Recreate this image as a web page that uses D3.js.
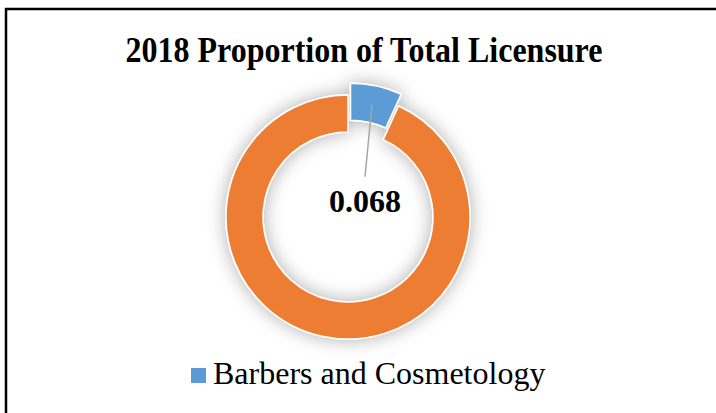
<!DOCTYPE html>
<html><head><meta charset="utf-8">
<script src="https://cdn.jsdelivr.net/npm/d3@7"></script>
<style>body{margin:0;background:#fff}svg{display:block}</style>
</head><body>
<svg id="c" width="716" height="413"></svg>
<script>
const title = "2018 Proportion of Total Licensure";
const categories = ["Barbers and Cosmetology", ""];
const values = [0.068, 0.932];
const labels = ["0.068", null];
const colors = ["#5B9BD5", "#ED7D31"];

const svg = d3.select("#c");
const W = 716, H = 413;
svg.append("rect").attr("width", W).attr("height", H).attr("fill", "#fff");

// frame (top and left edges visible)
svg.append("line").attr("x1", 5).attr("x2", W).attr("y1", 9).attr("y2", 9).attr("stroke", "#000").attr("stroke-width", 2.5);
svg.append("line").attr("x1", 6).attr("x2", 6).attr("y1", 8).attr("y2", H).attr("stroke", "#000").attr("stroke-width", 2.5);

const defs = svg.append("defs");
const f = defs.append("filter").attr("id", "sh").attr("x", "-30%").attr("y", "-30%").attr("width", "160%").attr("height", "160%");
f.append("feDropShadow").attr("dx", 0).attr("dy", 0).attr("stdDeviation", 9).attr("flood-color", "#000").attr("flood-opacity", 0.32);

svg.append("text").attr("transform", "translate(364,62.3) scale(1,1.1)").attr("text-anchor", "middle")
  .attr("font-family", "'Liberation Serif','Times New Roman',serif").attr("font-weight", "bold")
  .attr("font-size", 32).attr("fill", "#000").text(title);

const cx = 348, cy = 217, R = 122, r = 85, explode = 12;
const pie = d3.pie().sort(null).value(d => d.v);
const data = pie(categories.map((c, i) => ({c, v: values[i], i})));
const arc = d3.arc().innerRadius(r).outerRadius(R);

const g = svg.append("g").attr("transform", `translate(${cx},${cy})`);
const ring = g.append("g").attr("filter", "url(#sh)");
function offset(d) {
  if (d.index !== 0) return [0, 0];
  const a = (d.startAngle + d.endAngle) / 2;
  return [explode * Math.sin(a), -explode * Math.cos(a)];
}
ring.selectAll("path").data(data).join("path")
  .attr("d", arc)
  .attr("transform", d => { const o = offset(d); return `translate(${o[0]},${o[1]})`; })
  .attr("fill", d => colors[d.index])
  .attr("stroke", "#fff").attr("stroke-width", 1.5);

// data label with leader line
data.forEach(d => {
  if (!labels[d.index]) return;
  const o = offset(d);
  const a = (d.startAngle + d.endAngle) / 2;
  const rm = (r + R) / 2;
  const sx = o[0] + rm * Math.sin(a) - 0.5, sy = o[1] - rm * Math.cos(a) + 0.5;
  const lx = 365 - cx, ly = 211.7 - cy;
  g.append("line").attr("x1", sx).attr("y1", sy).attr("x2", lx).attr("y2", ly - 35)
    .attr("stroke", "#A6A6A6").attr("stroke-width", 1.5);
  g.append("text").attr("x", lx).attr("y", ly).attr("text-anchor", "middle")
    .attr("font-family", "'Liberation Serif','Times New Roman',serif").attr("font-weight", "bold")
    .attr("font-size", 32).attr("fill", "#000").text(labels[d.index]);
});

// legend
const leg = categories.map((c, i) => ({c, i})).filter(d => d.c);
const lg = svg.append("g");
leg.forEach(d => {
  lg.append("rect").attr("x", 191).attr("y", 368).attr("width", 15).attr("height", 15).attr("fill", colors[d.i]);
  lg.append("text").attr("x", 213).attr("y", 384)
    .attr("font-family", "'Liberation Serif','Times New Roman',serif")
    .attr("font-size", 32).attr("fill", "#000").text(d.c);
});
</script>
</body></html>
